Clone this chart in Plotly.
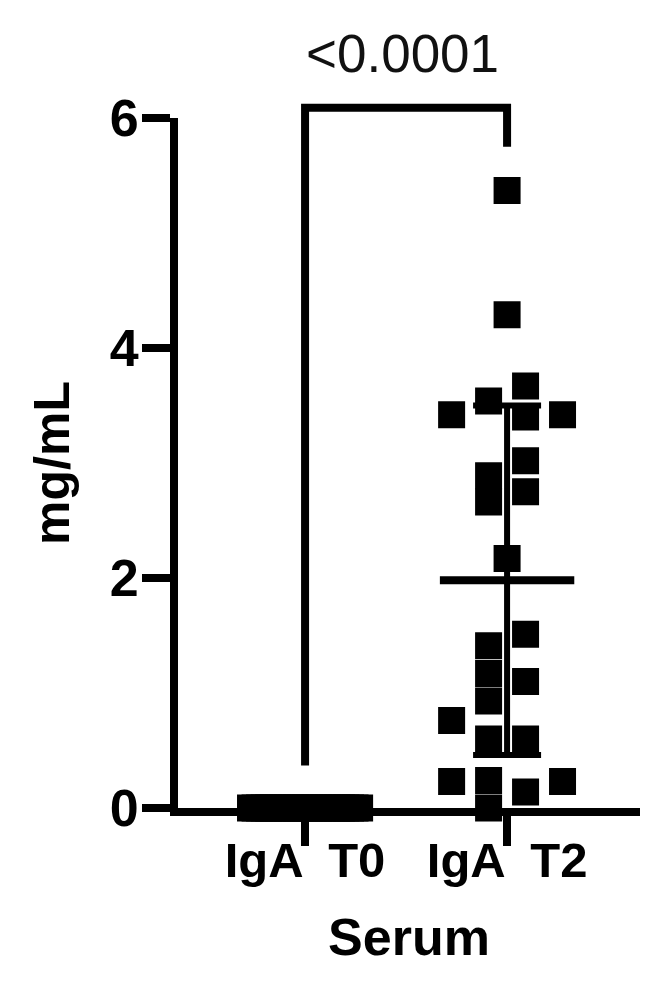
import plotly.graph_objects as go

# values (mg/mL)
groups = ["IgA\u2002T0", "IgA\u2002T2"]
t0_vals = [0.0] * 25
t0_slots = [-3.0, -2.75, -2.5, -2.25, -2.0, -1.75, -1.5, -1.25, -1.0, -0.75, -0.5, -0.25, 0.0,
            0.25, 0.5, 0.75, 1.0, 1.25, 1.5, 1.75, 2.0, 2.25, 2.5, 2.75, 3.0]
t2_vals = [5.37, 4.29, 3.67, 3.54, 3.42, 3.40, 3.42, 3.02, 2.89, 2.75, 2.66, 2.17,
           1.51, 1.41, 1.17, 1.10, 0.93, 0.76, 0.60, 0.60, 0.23, 0.24, 0.14, 0.23, 0.0]
t2_slots = [0, 0, 0.5, -0.5, -1.5, 0.5, 1.5, 0.5, -0.5, 0.5, -0.5, 0,
            0.5, -0.5, -0.5, 0.5, -0.5, -1.5, -0.5, 0.5, -1.5, -0.5, 0.5, 1.5, -0.5]
means = [0.0, 1.98]
sds = [0.0, 1.52]
p_text = "<0.0001"
brk_left, brk_right, brk_top = 0.37, 5.75, 6.09

ymax = 6
slot_w = 0.183   # swarm spacing in category units
t0_slot_w = 0.09

font = "Liberation Sans, Arial, sans-serif"
ink = "#000000"

fig = go.Figure()

fig.add_trace(go.Scatter(
    x=[0 + s * t0_slot_w for s in t0_slots], y=t0_vals, mode="markers",
    marker=dict(symbol="square", size=25, color=ink, line=dict(color=ink, width=2)),
    cliponaxis=False, showlegend=False))

fig.add_trace(go.Scatter(
    x=[1 + s * slot_w for s in t2_slots], y=t2_vals, mode="markers",
    marker=dict(symbol="square", size=25, color=ink, line=dict(color=ink, width=2)),
    cliponaxis=False, showlegend=False))

# mean line with SD whiskers
fig.add_trace(go.Scatter(
    x=[0, 1], y=means, mode="markers",
    marker=dict(symbol="line-ew", size=96, color=ink, line=dict(color=ink, width=8)),
    error_y=dict(type="data", array=sds, visible=True, color=ink, thickness=6, width=34),
    cliponaxis=False, showlegend=False))

# significance bracket
fig.add_shape(type="path", xref="x", yref="y domain",
              path=f"M 0,{brk_left / ymax} L 0,{brk_top / ymax} L 1,{brk_top / ymax} L 1,{brk_right / ymax}",
              line=dict(color=ink, width=8))
fig.add_annotation(x=0.48, xref="x", y=1.094, yref="y domain", text=p_text,
                   showarrow=False, yanchor="middle",
                   font=dict(family=font, size=53, color="#111111"))

fig.update_xaxes(
    range=[-0.629, 1.658], tickvals=[0, 1], ticktext=groups,
    showline=True, linewidth=8, linecolor=ink,
    ticks="outside", ticklen=30, tickwidth=8, tickcolor=ink,
    ticklabelstandoff=-28,
    tickfont=dict(family=font, size=49, color=ink, weight="bold"),
    showgrid=False, zeroline=False,
    title=dict(text="Serum", standoff=36,
               font=dict(family=font, size=52, color=ink, weight="bold")))
fig.update_yaxes(
    range=[0, ymax], tickvals=[0, 2, 4, 6],
    showline=True, linewidth=8, linecolor=ink,
    ticks="outside", ticklen=28, tickwidth=8, tickcolor=ink,
    ticklabelstandoff=-7,
    tickfont=dict(family=font, size=52, color=ink, weight="bold"),
    showgrid=False, zeroline=False,
    title=dict(text="mg/mL", standoff=27,
               font=dict(family=font, size=50, color=ink, weight="bold")))

# page body has an 8px margin, so the figure is shrunk by that much
fig.update_layout(
    width=642, height=978,
    margin=dict(l=170, r=10, t=110, b=178, autoexpand=False),
    plot_bgcolor="white", paper_bgcolor="white",
    font=dict(family=font, color=ink))

fig.write_html("out.html")
